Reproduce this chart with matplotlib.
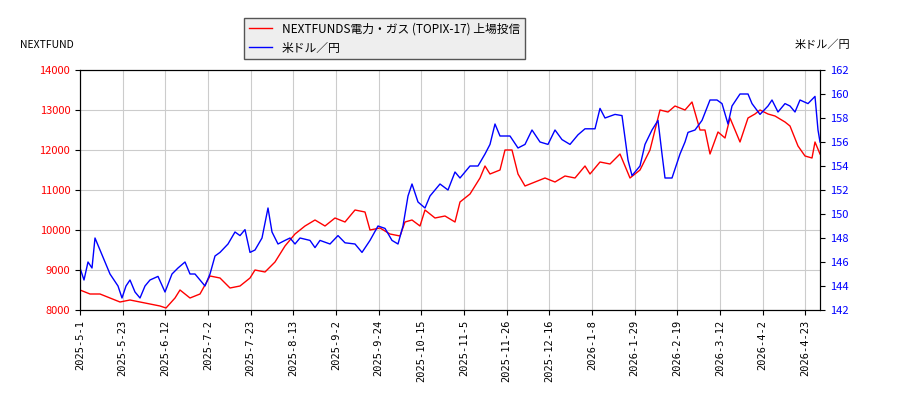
import matplotlib
matplotlib.use("Agg")
import matplotlib.pyplot as plt
import numpy as np

plt.rcParams['font.family'] = ['Noto Sans CJK JP', 'DejaVu Sans']

tick_labels = ["2025-5-1","2025-5-23","2025-6-12","2025-7-2","2025-7-23","2025-8-13","2025-9-2",
               "2025-9-24","2025-10-15","2025-11-5","2025-11-26","2025-12-16","2026-1-8","2026-1-29",
               "2026-2-19","2026-3-12","2026-4-2","2026-4-23"]
# time axis unit: 15 trading sessions = 42.67 units
red_t = [0,10,20,30,40,50,60,70,80,86,95,100,110,120,130,140,150,160,170,175,185,195,205,215,225,235,245,255,
         265,275,285,290,300,310,320,325,332,340,345,355,365,375,380,390,400,405,410,420,425,432,438,445,455,
         465,475,485,495,505,510,520,530,540,550,560,570,580,588,595,605,612,620,625,630,638,645,650,660,668,
         675,680,688,695,705,710,718,725,732,735,740]
red_v = [8500,8400,8400,8300,8200,8250,8200,8150,8100,8050,8300,8500,8300,8400,8850,8800,8550,8600,8800,9000,
         8950,9200,9600,9900,10100,10250,10100,10300,10200,10500,10450,10000,10050,9900,9850,10200,10250,10100,
         10500,10300,10350,10200,10700,10900,11300,11600,11400,11500,12000,12000,11400,11100,11200,11300,11200,
         11350,11300,11600,11400,11700,11650,11900,11300,11500,12000,13000,12950,13100,13000,13200,12500,12500,
         11900,12450,12300,12800,12200,12800,12900,13000,12900,12850,12700,12600,12100,11850,11800,12200,11900]
blue_t = [0,4,8,12,15,20,25,30,38,42,46,50,55,60,65,70,78,85,92,98,105,110,115,120,125,130,135,140,148,155,160,
          165,170,175,182,188,192,198,205,210,215,220,230,235,240,250,258,265,275,282,290,298,305,312,318,323,
          328,332,338,345,350,355,360,368,375,380,385,390,398,405,410,415,420,430,438,445,452,460,468,475,482,
          490,498,505,515,520,525,535,542,548,552,560,565,572,578,582,585,592,600,605,608,615,622,630,637,642,
          648,652,660,668,672,680,688,692,698,705,710,715,720,728,735,738,740]
blue_v = [145.5,144.5,146,145.5,148,147,146,145,144,143,144,144.5,143.5,143,144,144.5,144.8,143.5,145,145.5,146,
          145,145,144.5,144,145,146.5,146.8,147.5,148.5,148.2,148.7,146.8,147,148,150.5,148.5,147.5,147.8,148,
          147.5,148,147.8,147.2,147.8,147.5,148.2,147.6,147.5,146.8,147.8,149,148.8,147.8,147.5,149,151.5,152.5,
          151,150.5,151.5,152,152.5,152,153.5,153,153.5,154,154,155,155.8,157.5,156.5,156.5,155.5,155.8,157,156,
          155.8,157,156.2,155.8,156.6,157.1,157.1,158.8,158,158.3,158.2,154.5,153.2,154,155.8,157,157.8,155,153,
          153,155,156,156.8,157,157.8,159.5,159.5,159.2,157.5,159,160,160,159.2,158.3,159,159.5,158.5,159.2,159,
          158.5,159.5,159.2,159.8,157,156]

fig = plt.figure(figsize=(9,4), dpi=100)
ax = fig.add_axes([80/900, 90/400, 740/900, 240/400])
ax2 = ax.twinx()
l1, = ax.plot(red_t, red_v, color='red', lw=1)
l2, = ax2.plot(blue_t, blue_v, color='blue', lw=1)
ax.set_xlim(0,740)
ax.set_ylim(8000,14000)
ax2.set_ylim(142,162)
ax.set_yticks(np.arange(8000,14001,1000))
ax2.set_yticks(np.arange(142,163,2))
ax.set_xticks([i*42.67 for i in range(len(tick_labels))])
ax.set_xticklabels(tick_labels, rotation=90, fontsize=7.5, family=['DejaVu Sans Mono'])
ax.tick_params(axis='y', colors='red', labelsize=8)
ax2.tick_params(axis='y', colors='blue', labelsize=8)
for lab in ax.get_yticklabels(): lab.set_color('black')
ax.tick_params(axis='y', labelcolor='red')
ax.tick_params(axis='y', color='black')
ax2.tick_params(axis='y', color='black', labelcolor='blue')
ax.grid(True, color='#cccccc', lw=0.8)
fig.text(20/900, 1-45/400, "NEXTFUND", fontsize=7.5, va='center')
fig.text(850/900, 1-45/400, "米ドル／円", fontsize=8, va='center', ha='right')
fig.legend([l1,l2], ["NEXTFUNDS電力・ガス (TOPIX-17) 上場投信", "米ドル／円"],
           loc='upper left', bbox_to_anchor=(238/900, 1-12/400), fontsize=8.5,
           fancybox=False, edgecolor='#555555', facecolor='#eeeeee', framealpha=1)
fig.savefig("out.png")
